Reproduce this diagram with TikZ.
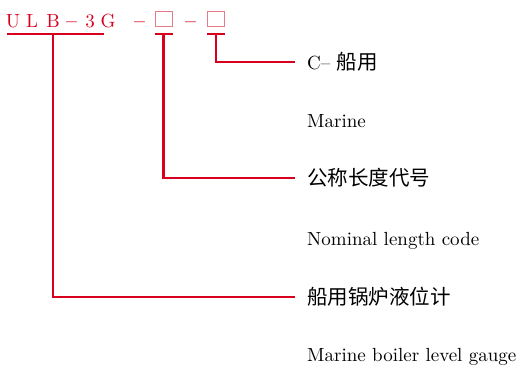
\documentclass[tikz,border=0pt]{standalone}
\usepackage{fontspec}
\setmainfont{lmroman10-regular.otf}[BoldFont=lmroman10-bold.otf]
\newfontfamily\cjk{Noto Sans CJK SC}
\usetikzlibrary{positioning}
\definecolor{codered}{HTML}{D7001E}
\definecolor{slotpink}{HTML}{E77C88}
\newcommand{\zh}[1]{{\cjk\fontsize{20.5}{24}\selectfont #1}}
\tikzset{
  code/.style={text=codered, font=\fontsize{19}{22}\selectfont, inner sep=0pt, anchor=base},
  slot/.style={draw=slotpink, line width=1.3pt, minimum width=17pt, minimum height=15pt, inner sep=0pt, anchor=south west},
  cntext/.style={font=\cjk\fontsize{20.5}{24}\selectfont, inner sep=0pt, anchor=west},
  entext/.style={font=\fontsize{19}{22}\selectfont, inner sep=0pt, anchor=base west},
  leader/.style={draw=codered, line width=2.6pt}
}
\begin{document}
\begin{tikzpicture}[x=1pt, y=-1pt]
  \useasboundingbox (0,0) rectangle (521,366);

  % model code
  \foreach \ch/\xc [count=\i] in {U/13, L/32, B/53, \textbf{--}/71.5, 3/90, G/108, \textbf{--}/139.5}
    \node[code] (code\i) at (\xc,27.5) {\ch};
  \node[slot] (slota) at (154.5,27.5) {};
  \node[code] (dashb) at (190.5,27.5) {\textbf{--}};
  \node[slot] (slotb) at (207,27.5) {};

  % explanations
  \node[entext] (marine) at (307,69.5) {C-- \zh{船用}};
  \node[entext] (marineen) at (307,128) {Marine};
  \node[cntext] (length) at (307,178) {公称长度代号};
  \node[entext] (lengthen) at (307,245) {Nominal length code};
  \node[cntext] (gauge) at (307,297) {船用锅炉液位计};
  \node[entext] (gaugeen) at (307,361) {Marine boiler level gauge};

  % underlines
  \coordinate (ula) at (7,34);
  \coordinate (ulb) at (104,34);
  \coordinate (ulmid) at (53,34);
  \draw[leader] (ula) -- (ulb);
  \draw[leader] ([yshift=-6.5pt]slota.south west) -- ([yshift=-6.5pt]slota.south east);
  \draw[leader] ([yshift=-6.5pt]slotb.south west) -- ([yshift=-6.5pt]slotb.south east);

  % leaders
  \draw[leader] ([yshift=-6.5pt]slotb.south) |- ([xshift=-12pt]marine.west |- 0,62);
  \draw[leader] ([yshift=-6.5pt]slota.south) |- ([xshift=-12pt]length.west);
  \draw[leader] (ulmid) |- ([xshift=-12pt]gauge.west);
\end{tikzpicture}
\end{document}
